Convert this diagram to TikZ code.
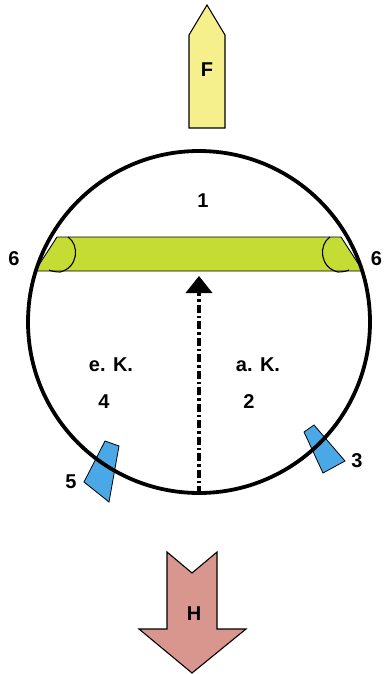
\documentclass[tikz,border=0pt]{standalone}
\usepackage{fontspec}
\setmainfont{Liberation Sans}
\definecolor{fyel}{RGB}{246,240,140}
\definecolor{bgreen}{RGB}{197,220,52}
\definecolor{qblue}{RGB}{74,168,230}
\definecolor{hred}{RGB}{217,150,143}
\tikzset{
  lbl/.style={font=\fontsize{20}{22}\selectfont\bfseries, inner sep=0pt},
  outl/.style={draw=black, line width=1.1pt, line join=miter},
  ring/.style={draw=black, line width=3.8pt},
}
\begin{document}
\begin{tikzpicture}[x=1pt,y=-1pt]
\useasboundingbox (0,0) rectangle (383,674);
% F arrow
\filldraw[outl, fill=fyel] (189,128) -- (189,35) -- (207,5) -- (225,35) -- (225,128) -- cycle;
\node[lbl] (F) at (207,70) {F};
% H arrow
\filldraw[outl, fill=hred] (167,552) -- (192,573) -- (217,552) -- (217,629) -- (246,629) -- (192,673) -- (139,629) -- (167,629) -- cycle;
\node[lbl] (H) at (194,614) {H};
% green bar
\filldraw[draw=black, line width=0.9pt, fill=bgreen] (57,237) -- (341,237) -- (363,271) -- (35,271) -- cycle;
\draw[black, line width=1.1pt] (68,237) .. controls (80,245) and (78,268) .. (60,272) .. controls (55,272) and (51,271) .. (49,270);
\draw[black, line width=1.1pt] (330,237) .. controls (318,245) and (320,268) .. (338,272) .. controls (343,272) and (347,271) .. (349,270);
% blue quads
\filldraw[draw=black, line width=0.8pt, fill=qblue] (105,441) -- (119,446) -- (109,502) -- (84,482) -- cycle;
\filldraw[draw=black, line width=0.8pt, fill=qblue] (304,432) -- (314,425) -- (345,461) -- (323,473) -- cycle;
% circle
\draw[ring] (199,322) circle[radius=171];
% dash-dot arrow
\coordinate (bot) at (199,494);
\coordinate (top) at (199,276);
\coordinate (base) at (199,293);
\draw[line width=3.5pt, dash pattern=on 8pt off 3pt on 2.5pt off 3pt] (bot) -- (base);
\fill[black] (top) -- ([xshift=-13.5pt]base) -- ([xshift=13.5pt]base) -- cycle;
% labels
\node[lbl] (n1) at (203,201) {1};
\node[lbl] (n6l) at (14,259) {6};
\node[lbl] (n6r) at (376.5,259) {6};
\node[lbl] (ek) at (111,365) {e. K.};
\node[lbl] (ak) at (258,365) {a. K.};
\node[lbl] (n4) at (104,402) {4};
\node[lbl] (n2) at (249,402) {2};
\node[lbl] (n5) at (71,482) {5};
\node[lbl] (n3) at (357,461) {3};
\end{tikzpicture}
\end{document}
